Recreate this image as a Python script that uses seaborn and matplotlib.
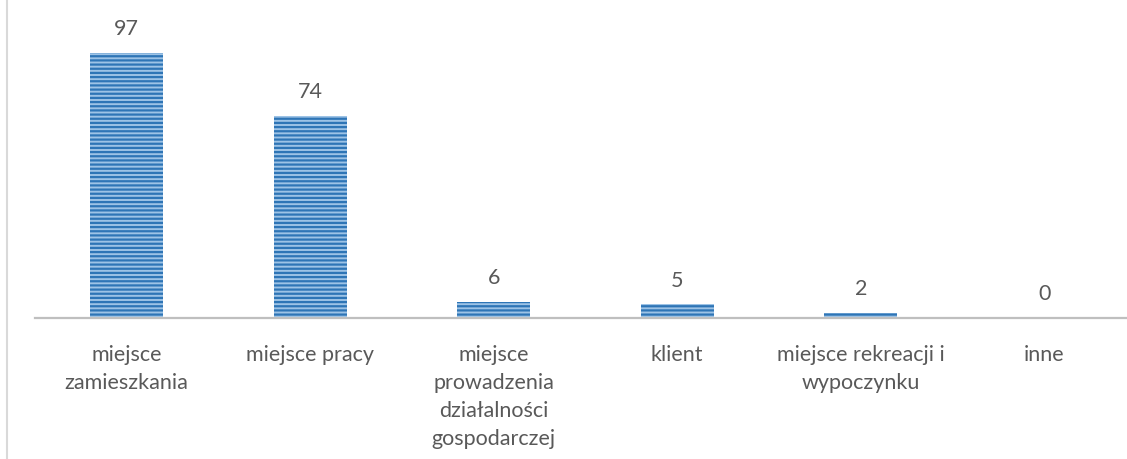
import matplotlib
matplotlib.use("Agg")
import matplotlib.pyplot as plt
import seaborn as sns
import pandas as pd
from matplotlib.lines import Line2D

categories = ["miejsce\nzamieszkania", "miejsce pracy",
              "miejsce\nprowadzenia\ndziałalności\ngospodarczej",
              "klient", "miejsce rekreacji i\nwypoczynku", "inne"]
values = [97, 74, 6, 5, 2, 0]

sns.set_theme(style="white")
plt.rcParams['font.family'] = ['Lato', 'DejaVu Sans']
plt.rcParams['hatch.linewidth'] = 1.6

df = pd.DataFrame({"cat": categories, "val": values})

fig = plt.figure(figsize=(11.27, 4.6), dpi=100)
ax = fig.add_axes([35 / 1127, 141 / 460, 1101 / 1127, 288 / 460])

sns.barplot(data=df, x="cat", y="val", ax=ax, width=0.4,
            color="#9dc3e6", saturation=1, edgecolor="#2e75b6", linewidth=0)
for p in ax.patches:
    p.set_hatch("----")

ax.set_ylim(0, 105.4)
ax.set_xlim(-0.5, 5.5)
ax.bar_label(ax.containers[0], padding=10.5, fontsize=15.5, color="#595959")

ax.set_xlabel("")
ax.set_ylabel("")
ax.set_yticks([])
ax.tick_params(axis="x", length=0, pad=18.5, labelsize=15.5, labelcolor="#595959")
for t in ax.get_xticklabels():
    t.set_linespacing(1.5)
    t.set_verticalalignment("top")

sns.despine(ax=ax, left=True)
ax.spines["bottom"].set_color("#bfbfbf")
ax.spines["bottom"].set_linewidth(1.6)

fig.add_artist(Line2D([7 / 1127, 7 / 1127], [0, 1], transform=fig.transFigure,
                      color="#d9d9d9", linewidth=1.5))

fig.savefig("out.png", dpi=100)
